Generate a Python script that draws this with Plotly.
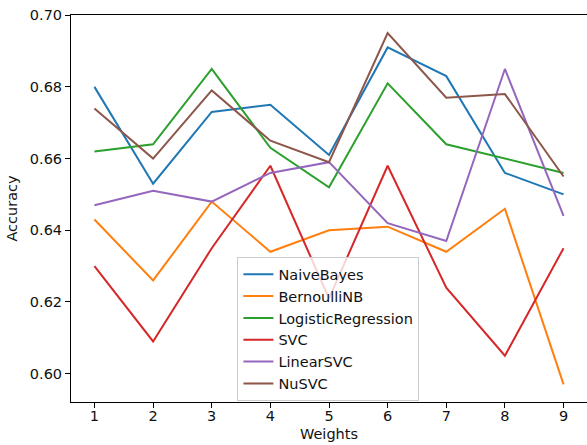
import plotly.graph_objects as go

weights = [1, 2, 3, 4, 5, 6, 7, 8, 9]
naive_bayes = [0.680, 0.653, 0.673, 0.675, 0.661, 0.691, 0.683, 0.656, 0.650]
bernoulli_nb = [0.643, 0.626, 0.648, 0.634, 0.640, 0.641, 0.634, 0.646, 0.597]
logistic_regression = [0.662, 0.664, 0.685, 0.663, 0.652, 0.681, 0.664, 0.660, 0.656]
svc = [0.630, 0.609, 0.635, 0.658, 0.621, 0.658, 0.624, 0.605, 0.635]
linear_svc = [0.647, 0.651, 0.648, 0.656, 0.659, 0.642, 0.637, 0.685, 0.644]
nu_svc = [0.674, 0.660, 0.679, 0.665, 0.659, 0.695, 0.677, 0.678, 0.655]

series = [
    ("NaiveBayes", naive_bayes, "#1f77b4"),
    ("BernoulliNB", bernoulli_nb, "#ff7f0e"),
    ("LogisticRegression", logistic_regression, "#2ca02c"),
    ("SVC", svc, "#d62728"),
    ("LinearSVC", linear_svc, "#9467bd"),
    ("NuSVC", nu_svc, "#8c564b"),
]

fig = go.Figure()
for name, vals, color in series:
    fig.add_trace(go.Scatter(x=weights, y=vals, mode="lines", name=name,
                             line=dict(color=color, width=2)))

font = "DejaVu Sans"
fs = 14.5
fig.update_layout(
    width=587, height=445,
    margin=dict(l=71, r=0, t=15, b=43),
    plot_bgcolor="white", paper_bgcolor="white",
    font=dict(family=font, size=fs, color="#111"),
    showlegend=True,
    legend=dict(x=0.3225, y=0.374, xanchor="left", yanchor="top",
                bgcolor="rgba(255,255,255,0.8)", bordercolor="#cccccc", borderwidth=1,
                font=dict(family=font, size=fs, color="#111")),
    xaxis=dict(range=[0.6, 9.4], tickvals=weights, showgrid=False, zeroline=False,
               showline=True, linecolor="black", linewidth=1, mirror=True,
               ticks="outside", ticklen=5, tickcolor="black", ticklabelstandoff=-4,
               title=dict(text="Weights", standoff=5, font=dict(size=fs))),
    yaxis=dict(range=[0.5921, 0.70005], tickvals=[0.60, 0.62, 0.64, 0.66, 0.68, 0.70],
               tickformat=".2f", showgrid=False, zeroline=False,
               showline=True, linecolor="black", linewidth=1,
               ticks="outside", ticklen=5, tickcolor="black",
               title=dict(text="Accuracy", standoff=8, font=dict(size=fs))),
)

fig.write_html("out.html", config={"displayModeBar": False},
               post_script="document.body.style.margin='0';document.body.style.padding='0';")
